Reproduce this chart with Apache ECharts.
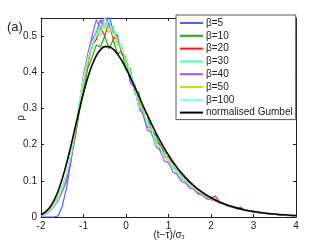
<!DOCTYPE html>
<html><head><meta charset="utf-8">
<script src="https://cdn.jsdelivr.net/npm/echarts@6/dist/echarts.min.js"></script>
<style>html,body{margin:0;padding:0;background:#fff}#c{width:327px;height:246px}</style>
</head><body><div id="c"></div>
<script>
const xs = [-2.0,-1.9,-1.8,-1.7,-1.6,-1.5,-1.4,-1.3,-1.2,-1.1,-1.0,-0.9,-0.8,-0.7,-0.6,-0.5,-0.4,-0.3,-0.2,-0.1,0.0,0.1,0.2,0.3,0.4,0.5,0.6,0.7,0.8,0.9,1.0,1.1,1.2,1.3,1.4,1.5,1.6,1.7,1.8,1.9,2.0,2.1,2.2,2.3,2.4,2.5,2.6,2.7,2.8,2.9,3.0,3.1,3.2,3.3,3.4,3.5,3.6,3.7,3.8,3.9,4.0];
const beta5 = [0,0,0,0,0.003,0.03,0.08,0.15,0.23,0.31,0.39,0.445,0.49,0.51,0.545,0.52,0.56,0.51,0.50,0.455,0.43,0.38,0.36,0.31,0.285,0.25,0.24,0.205,0.19,0.165,0.16,0.135,0.13,0.105,0.10,0.085,0.082,0.066,0.064,0.052,0.05,0.047,0.04,0.038,0.03,0.028,0.024,0.021,0.02,0.016,0.014,0.012,0.011,0.009,0.009,0.007,0.007,0.005,0.005,0.004,0.003];
const beta10 = [0.006,0.01,0.02,0.033,0.05,0.078,0.112,0.16,0.215,0.29,0.35,0.41,0.44,0.475,0.47,0.50,0.465,0.49,0.45,0.46,0.405,0.41,0.35,0.345,0.29,0.285,0.24,0.225,0.2,0.18,0.172,0.15,0.135,0.12,0.108,0.095,0.086,0.075,0.068,0.058,0.055,0.046,0.043,0.036,0.034,0.028,0.026,0.022,0.02,0.017,0.016,0.013,0.012,0.01,0.009,0.008,0.007,0.006,0.005,0.004,0.004];
const beta20 = [0.005,0.012,0.022,0.03,0.052,0.08,0.11,0.17,0.225,0.3,0.375,0.42,0.475,0.49,0.525,0.5,0.54,0.49,0.505,0.45,0.44,0.38,0.37,0.32,0.3,0.26,0.245,0.21,0.2,0.17,0.165,0.14,0.128,0.11,0.104,0.088,0.082,0.07,0.064,0.054,0.052,0.058,0.042,0.037,0.031,0.03,0.024,0.027,0.018,0.017,0.014,0.012,0.011,0.01,0.008,0.008,0.006,0.006,0.005,0.004,0.003];
const beta30 = [0.004,0.009,0.018,0.036,0.058,0.085,0.12,0.17,0.235,0.31,0.38,0.44,0.465,0.52,0.5,0.555,0.52,0.53,0.48,0.475,0.42,0.395,0.34,0.335,0.28,0.27,0.225,0.22,0.18,0.178,0.15,0.145,0.12,0.115,0.095,0.093,0.076,0.073,0.06,0.058,0.048,0.047,0.038,0.037,0.03,0.029,0.024,0.023,0.019,0.018,0.015,0.014,0.011,0.011,0.009,0.009,0.007,0.006,0.005,0.004,0.004];
const beta40 = [0.003,0.007,0.015,0.028,0.045,0.07,0.1,0.155,0.225,0.31,0.39,0.45,0.5,0.545,0.52,0.565,0.53,0.51,0.5,0.455,0.44,0.37,0.36,0.3,0.285,0.24,0.235,0.195,0.185,0.155,0.15,0.125,0.118,0.098,0.094,0.08,0.076,0.063,0.06,0.05,0.048,0.044,0.038,0.036,0.029,0.028,0.023,0.021,0.018,0.016,0.014,0.012,0.011,0.009,0.009,0.007,0.006,0.005,0.004,0.004,0.003];
const beta50 = [0.005,0.01,0.02,0.034,0.055,0.082,0.118,0.165,0.23,0.3,0.37,0.425,0.48,0.5,0.52,0.535,0.51,0.52,0.475,0.47,0.43,0.39,0.36,0.315,0.295,0.255,0.24,0.205,0.195,0.168,0.158,0.138,0.126,0.11,0.1,0.088,0.079,0.07,0.062,0.056,0.049,0.045,0.04,0.034,0.031,0.027,0.025,0.021,0.019,0.016,0.015,0.013,0.011,0.01,0.009,0.008,0.007,0.006,0.005,0.004,0.003];
const beta100 = [0.004,0.008,0.017,0.03,0.05,0.078,0.115,0.17,0.24,0.32,0.385,0.44,0.485,0.5,0.535,0.52,0.545,0.5,0.51,0.46,0.445,0.4,0.37,0.3,0.31,0.255,0.25,0.2,0.195,0.16,0.162,0.132,0.13,0.106,0.104,0.087,0.083,0.07,0.066,0.055,0.053,0.045,0.043,0.036,0.034,0.029,0.027,0.023,0.021,0.018,0.016,0.014,0.012,0.011,0.01,0.009,0.008,0.007,0.006,0.005,0.004];
const gumbelX = [-2.0,-1.9,-1.8,-1.7,-1.6,-1.5,-1.4,-1.3,-1.2,-1.1,-1.0,-0.9,-0.8,-0.7,-0.6,-0.5,-0.4,-0.3,-0.2,-0.1,0.0,0.1,0.2,0.3,0.4,0.5,0.6,0.7,0.8,0.9,1.0,1.2,1.4,1.6,1.8,2.0,2.2,2.4,2.6,2.8,3.0,3.2,3.4,3.6,3.8,4.0];
const gumbelY = [0.0063,0.0134,0.0255,0.0443,0.071,0.1055,0.1475,0.1949,0.2453,0.2955,0.3429,0.3849,0.4195,0.4455,0.4626,0.4708,0.4708,0.4637,0.4504,0.4323,0.4107,0.3865,0.3609,0.3345,0.3081,0.2822,0.2572,0.2334,0.211,0.1902,0.1709,0.137,0.1089,0.0861,0.0677,0.0531,0.0415,0.0323,0.0252,0.0195,0.0152,0.0118,0.0091,0.0071,0.0055,0.0042];
const seriesNames = ['β=5','β=10','β=20','β=30','β=40','β=50','β=100','normalised Gumbel'];
const seriesColors = ['#4466ff','#1fa51f','#ff1a1a','#55ffb0','#a050ff','#c4e000','#88fff0','#000000'];
const xTicks = [-2,-1,0,1,2,3,4];

const noisy = [beta5,beta10,beta20,beta30,beta40,beta50,beta100];
const FONT = 'Liberation Sans, Arial, Helvetica, sans-serif';
const chart = echarts.init(document.getElementById('c'), null, {renderer:'canvas'});
const series = noisy.map((arr,k)=>({
  name: seriesNames[k], type:'line', symbol:'none', clip:true,
  data: arr.map((v,i)=>[xs[i],v]),
  lineStyle:{color:seriesColors[k], width:1.2},
  itemStyle:{color:seriesColors[k]},
  xAxisIndex:0, yAxisIndex:0, z:2
}));
series.push({
  name: seriesNames[7], type:'line', symbol:'none', smooth:0.3, clip:true,
  data: gumbelY.map((v,i)=>[gumbelX[i],v]),
  lineStyle:{color:'#000', width:1.6}, itemStyle:{color:'#000'}, z:3
});
const axisCommon = {
  axisLine:{show:true, onZero:false, lineStyle:{color:'#222', width:1}},
  axisTick:{show:true, inside:true, length:3, lineStyle:{color:'#222', width:1}},
  splitLine:{show:false}
};
chart.setOption({
  animation:false,
  backgroundColor:'#fff',
  grid:{left:41, right:31, top:18, bottom:29, containLabel:false},
  xAxis:[
    Object.assign({type:'value', min:xTicks[0], max:xTicks[xTicks.length-1], interval:1, position:'bottom',
      axisLabel:{color:'#222', fontFamily:FONT, fontSize:10, margin:4}}, axisCommon),
    Object.assign({type:'value', min:xTicks[0], max:xTicks[xTicks.length-1], interval:1, position:'top',
      axisLabel:{show:false}}, axisCommon)
  ],
  yAxis:[
    Object.assign({type:'value', min:0, max:0.55, interval:0.1, position:'left',
      axisLabel:{color:'#222', fontFamily:FONT, fontSize:10, margin:4, showMaxLabel:false,
        formatter:v=> (Math.abs(v-0.55)<1e-6 ? '' : String(Math.round(v*10)/10))}}, axisCommon),
    Object.assign({type:'value', min:0, max:0.55, interval:0.1, position:'right',
      axisLabel:{show:false}}, axisCommon)
  ],
  legend:{
    show:true, orient:'vertical', left:176, top:15,
    data: seriesNames,
    icon:'rect', itemWidth:23, itemHeight:2, itemGap:0.8,
    padding:[2,3,1,4],
    backgroundColor:'#fff', borderColor:'#555', borderWidth:1,
    textStyle:{fontFamily:FONT, fontSize:10, color:'#222', lineHeight:12, padding:[0,0,0,-2]},
    selectedMode:false
  },
  graphic:[
    {type:'text', left:7, top:21, style:{text:'(a)', font:'13px '+FONT, fill:'#222'}},
    {type:'text', x:21, y:118, rotation:Math.PI/2, style:{text:'ρ', font:'10px '+FONT, fill:'#222', align:'center', verticalAlign:'middle'}},
    {type:'text', x:169, y:235, style:{text:'(t−τ)/σ{s|τ}', font:'10px '+FONT, fill:'#222', align:'center', verticalAlign:'middle',
      rich:{s:{fontSize:7, fontFamily:FONT, fill:'#222', verticalAlign:'bottom', padding:[4,0,0,0]}}}}
  ],
  series: series
});
</script></body></html>
